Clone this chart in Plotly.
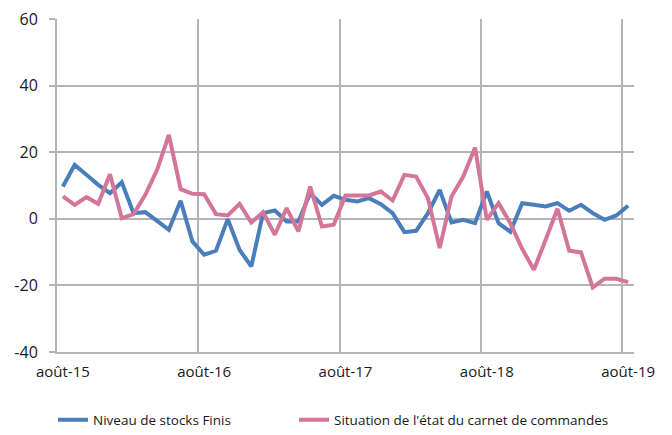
import plotly.graph_objects as go

months = list(range(49))
tick_positions = [0, 12, 24, 36, 48]
tick_labels = ["août-15", "août-16", "août-17", "août-18", "août-19"]
year_boundaries = [11.5, 23.5, 35.5, 47.5]
y_ticks = [-40, -20, 0, 20, 40, 60]
y_tick_labels = ["-40", "-20", "0", "20", "40", "60"]

stocks_finis = [9.7, 16.2, 13.2, 10.2, 7.7, 11.0, 1.7, 2.0, -0.6, -3.3,
                5.4, -6.8, -10.8, -9.6, -0.1, -9.3, -14.3, 1.7, 2.5, -0.8,
                -0.8, 7.7, 4.2, 6.9, 5.7, 5.2, 6.2, 4.4, 1.7, -4.0,
                -3.6, 1.7, 8.7, -1.1, -0.3, -1.3, 8.2, -1.3, -3.9, 4.7,
                4.2, 3.7, 4.7, 2.4, 4.2, 1.7, -0.3, 1.0, 3.9]

carnet_commandes = [6.7, 4.2, 6.5, 4.5, 13.4, 0.2, 1.4, 7.2, 14.7, 25.2,
                    8.9, 7.5, 7.4, 1.4, 1.0, 4.5, -1.1, 2.0, -4.8, 3.2,
                    -3.8, 9.7, -2.3, -1.8, 7.0, 7.0, 7.0, 8.2, 5.5, 13.2,
                    12.7, 6.2, -8.8, 6.7, 12.7, 21.4, -0.3, 4.7, -1.3, -9.0,
                    -15.3, -6.3, 3.0, -9.6, -10.1, -20.6, -18.0, -18.0, -19.0]

GRID = "#b4b4b4"
TEXT = "#1a1a1a"

fig = go.Figure()
fig.add_trace(go.Scatter(x=months, y=stocks_finis, mode="lines",
                         name="Niveau de stocks Finis", legend="legend",
                         line=dict(color="#4a7ebb", width=4)))
fig.add_trace(go.Scatter(x=months, y=carnet_commandes, mode="lines",
                         name="Situation de l'état du carnet de commandes",
                         legend="legend2",
                         line=dict(color="#d4759a", width=4)))

legend_common = dict(orientation="h", xref="container", yref="container",
                     xanchor="left", yanchor="middle",
                     font=dict(size=13.5, family="Open Sans", color=TEXT),
                     bgcolor="rgba(0,0,0,0)", itemwidth=30)

fig.update_layout(
    width=672, height=435,
    margin=dict(l=49, r=46, t=11, b=91),
    paper_bgcolor="white", plot_bgcolor="white",
    font=dict(family="Open Sans", color=TEXT),
    showlegend=True,
    legend=dict(x=45 / 672, y=1 - 412 / 435, **legend_common),
    legend2=dict(x=286 / 672, y=1 - 412 / 435, **legend_common),
)

fig.update_xaxes(
    range=[-0.5, 48.5], automargin=False,
    tickmode="array", tickvals=tick_positions, ticktext=tick_labels,
    showgrid=False, zeroline=False,
    showline=True, linecolor=GRID, linewidth=2,
    ticks="", ticklabelstandoff=5, ticklabeloverflow="allow",
    tickfont=dict(size=15, family="Open Sans", color=TEXT),
    minor=dict(tickmode="array", tickvals=year_boundaries, showgrid=True,
               gridcolor=GRID, gridwidth=2, ticks=""),
)

fig.update_yaxes(
    range=[-40, 60], automargin=False,
    tickmode="array", tickvals=y_ticks, ticktext=y_tick_labels,
    showgrid=True, gridcolor=GRID, gridwidth=2, zeroline=False,
    showline=True, linecolor=GRID, linewidth=2,
    ticks="outside", ticklen=6, tickcolor=GRID, tickwidth=2,
    ticklabelstandoff=8, ticklabeloverflow="allow",
    tickfont=dict(size=16, family="Open Sans", color=TEXT),
)

fig.write_html("out.html")
